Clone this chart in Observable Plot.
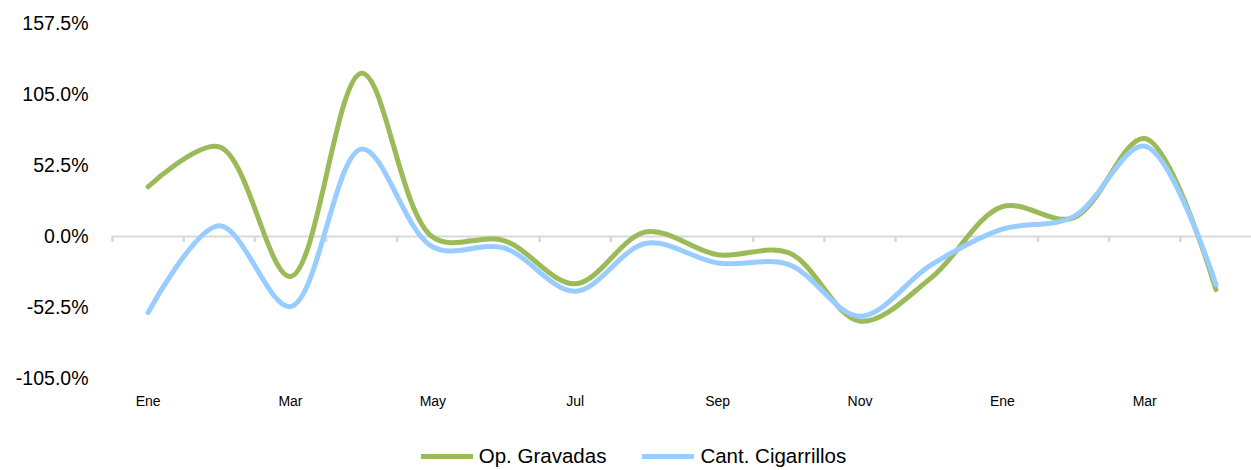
<!DOCTYPE html>
<html>
<head>
<meta charset="utf-8">
<script src="https://cdn.jsdelivr.net/npm/d3@7"></script>
<script src="https://cdn.jsdelivr.net/npm/@observablehq/plot@0.6"></script>
<style>
  html, body { margin: 0; padding: 0; background: #fff; }
  body { width: 1251px; font-family: "Liberation Sans", Arial, sans-serif; }
  #legend { display: flex; justify-content: center; align-items: center; height: 40px; margin-top: 6px; gap: 36px; padding-left: 16px; font-size: 20.5px; color: #000; }
  .item { display: flex; align-items: center; }
  .sw { width: 52px; height: 5px; margin-right: 6px; }
</style>
</head>
<body>
<div id="chart"></div>
<div id="legend"></div>
<script>
const months = ["Ene","Feb","Mar","Abr","May","Jun","Jul","Ago","Sep","Oct","Nov","Dic","Ene","Feb","Mar","Abr"];
const opGravadas = [36.8, 66.3, -29.5, 120.8, -0.5, -3.0, -35.0, 3.5, -13.5, -12.0, -62.6, -30.6, 22.0, 13.8, 72.4, -39.3];
const cantCigarrillos = [-56.2, 8.0, -51.8, 64.6, -7.8, -8.5, -40.5, -5.0, -19.6, -20.8, -59.0, -21.0, 5.4, 14.7, 66.8, -35.6];
const yTicks = [-105, -52.5, 0, 52.5, 105, 157.5];
const seriesNames = ["Op. Gravadas", "Cant. Cigarrillos"];
const colors = ["#9BBB59", "#99CCFF"];

const rows = [];
months.forEach((m, i) => {
  rows.push({i, month: m, series: seriesNames[0], value: opGravadas[i]});
  rows.push({i, month: m, series: seriesNames[1], value: cantCigarrillos[i]});
});
const boundaries = d3.range(months.length).map(i => i - 0.5);
const labelIdx = d3.range(0, months.length, 2);

const chart = Plot.plot({
  width: 1251,
  height: 430,
  marginLeft: 112,
  marginRight: 0,
  marginTop: 23,
  marginBottom: 52,
  style: { fontFamily: "Liberation Sans, Arial, sans-serif", color: "#000", background: "#fff" },
  x: { type: "linear", domain: [-0.5, months.length - 0.5] },
  y: { domain: [-105, 157.5] },
  color: { domain: seriesNames, range: colors },
  marks: [
    Plot.axisY({ ticks: yTicks, tickSize: 0, tickPadding: 24, tickFormat: d => d.toFixed(1) + "%", fontSize: 19.5, label: null }),
    Plot.axisX({ ticks: labelIdx, tickSize: 0, tickPadding: 18, tickFormat: i => months[i], fontSize: 14, label: null }),
    Plot.ruleY([0], { x1: -0.5, x2: months.length - 0.5, stroke: "#D9D9D9", strokeWidth: 2 }),
    Plot.ruleX(boundaries, { x: d => d, y1: 0, y2: 0, insetBottom: -6, stroke: "#D9D9D9", strokeWidth: 2.5 }),
    Plot.line(rows.filter(d => d.series === seriesNames[0]), { x: "i", y: "value", stroke: "series", strokeWidth: 5, curve: "catmull-rom" }),
    Plot.line(rows.filter(d => d.series === seriesNames[1]), { x: "i", y: "value", stroke: "series", strokeWidth: 5, curve: "catmull-rom" })
  ]
});
document.getElementById("chart").appendChild(chart);

const legend = document.getElementById("legend");
seriesNames.forEach((s, k) => {
  const it = document.createElement("div");
  it.className = "item";
  const sw = document.createElement("div");
  sw.className = "sw";
  sw.style.background = colors[k];
  const t = document.createElement("span");
  t.textContent = s;
  it.appendChild(sw); it.appendChild(t);
  legend.appendChild(it);
});
</script>
</body>
</html>
